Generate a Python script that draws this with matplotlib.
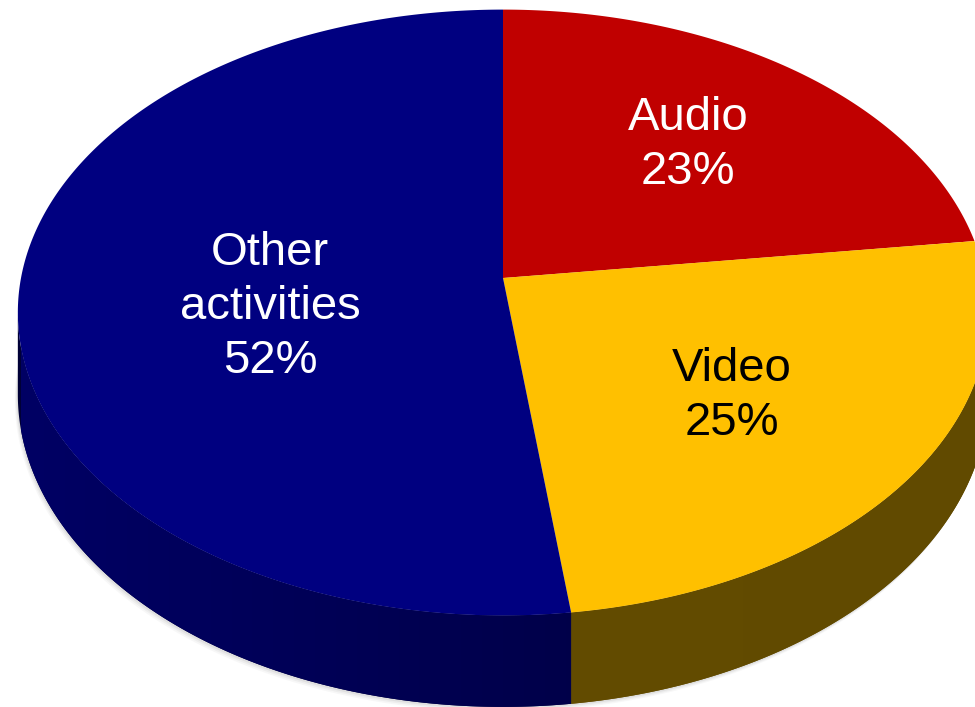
import numpy as np
import matplotlib
matplotlib.use('Agg')
import matplotlib.pyplot as plt
from matplotlib.patches import Polygon
from matplotlib.colors import to_rgb

labels = ['Audio', 'Video', 'Other\nactivities']
shares = [23, 25, 52]
top_colors = ['#C00000', '#FFC000', '#000080']
side_light = ['#600000', '#654E00', '#000064']
side_dark = ['#600000', '#614A00', '#000036']
text_colors = ['white', 'black', 'white']

# perspective ellipse (pixels)
cx, cy = 503, 278
a, b = 482, 299
k = 0.114
depth = 81


def proj(theta, z=0.0):
    x = np.sin(theta)
    y = np.cos(theta)
    d = 1 + k * y
    return cx + a * x / d, cy - b * y / d + z * depth / d


fig = plt.figure(figsize=(9.75, 7.07), dpi=100)
ax = fig.add_axes([0, 0, 1, 1])

frac = np.array(shares) / sum(shares)
edges = np.concatenate([[0], np.cumsum(frac)]) * 2 * np.pi
vis_lo, vis_hi = np.arccos(-k), 2 * np.pi - np.arccos(-k)

# soft shadow under the whole cake
th_all = np.linspace(0, 2 * np.pi, 400)
sx, sy = proj(th_all, 1)
for off, al in [(5, 0.06), (3.5, 0.08), (2, 0.12)]:
    ax.add_patch(Polygon(np.column_stack([sx - off * 0.6, sy + off]),
                         closed=True, facecolor='gray', alpha=al,
                         edgecolor='none'))

# side walls with a left-to-right shading
x_left, x_right = cx - a, cx + a
for i in range(len(shares)):
    t0, t1 = max(edges[i], vis_lo), min(edges[i + 1], vis_hi)
    if t1 <= t0:
        continue
    th = np.linspace(t0, t1, 300)
    xt, yt = proj(th, 0)
    xb, yb = proj(th, 1)
    pts = np.column_stack([np.concatenate([xt, xb[::-1]]),
                           np.concatenate([yt, yb[::-1]])])
    wall = Polygon(pts, closed=True, facecolor=side_dark[i], edgecolor='none')
    ax.add_patch(wall)
    w = np.linspace(0, 1, 256)[:, None]
    grad = (np.array(to_rgb(side_light[i])) * (1 - w)
            + np.array(to_rgb(side_dark[i])) * w)[None, :, :]
    im = ax.imshow(grad, extent=(x_left, x_right, 707, 0), aspect='auto',
                   interpolation='bilinear', zorder=1.5)
    im.set_clip_path(wall)

# top wedges
for i in range(len(shares)):
    th = np.linspace(edges[i], edges[i + 1], 300)
    xs, ys = proj(th, 0)
    pts = np.column_stack([np.concatenate([[cx], xs]),
                           np.concatenate([[cy], ys])])
    ax.add_patch(Polygon(pts, closed=True, facecolor=top_colors[i],
                         edgecolor='none', zorder=2))

label_pos = [(688, 145), (732, 396), (270, 307)]
for i, (lx, ly) in enumerate(label_pos):
    ax.text(lx, ly, f'{labels[i]}\n{shares[i]}%', ha='center', va='center',
            color=text_colors[i], fontsize=34, family='Liberation Sans',
            linespacing=1.3, zorder=3)

ax.set_xlim(0, 975)
ax.set_ylim(707, 0)
ax.axis('off')

fig.savefig('out.png', dpi=100)
